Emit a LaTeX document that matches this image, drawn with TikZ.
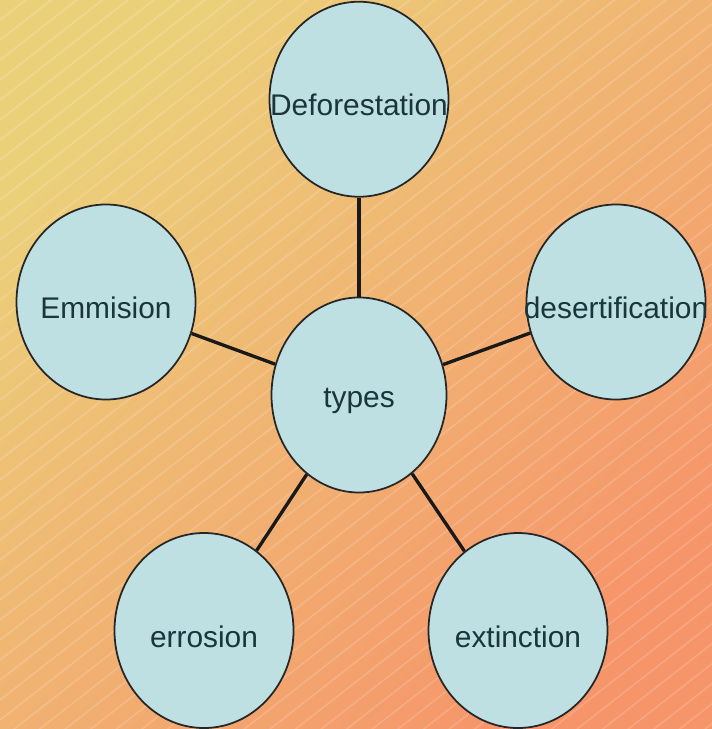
\documentclass[tikz,border=0pt]{standalone}
\usepackage{fontspec}
\setmainfont{Liberation Sans}
\usetikzlibrary{shapes.geometric,positioning}
\definecolor{bgtop}{HTML}{EBD07A}
\definecolor{bgbottom}{HTML}{F6956A}
\definecolor{topicfill}{HTML}{BEE0E3}
\definecolor{topictext}{HTML}{1A353B}
\tikzset{
  mm background/.style={
    shading=axis,
    top color=bgtop,
    bottom color=bgbottom,
    shading angle=45,
  },
  mm hatch/.style={white, line width=0.9pt, draw opacity=0.16},
  mm topic/.style={
    ellipse,
    minimum width=3.58cm,
    minimum height=3.9cm,
    inner sep=0pt,
    line width=1pt,
    draw=black!85,
    fill=topicfill,
  },
  mm text/.style={
    font=\fontsize{17}{20}\selectfont,
    text=topictext,
    yshift=-0.12cm,
  },
  mm link/.style={line width=1.9pt, draw=black!90},
}
\begin{document}
\begin{tikzpicture}
  \useasboundingbox (0,0) rectangle (14.24,-14.58);
  \shade[mm background] (0,0) rectangle (14.24,-14.58);
  \begin{scope}
    \clip (0,0) rectangle (14.24,-14.58);
    \foreach \k in {0,...,80}
      \draw[mm hatch] (0,-0.4*\k) -- ++(38:30);
  \end{scope}

  \node[mm topic,minimum width=3.5cm,label={[mm text]center:types}] (types) at (7.18,-7.9) {};

  \node[mm topic,above=1.98cm of types,label={[mm text]center:Deforestation}] (defo) {};
  \node[mm topic,label={[mm text]center:Emmision}] (emm) at (2.12,-6.04) {};
  \node[mm topic,label={[mm text]center:desertification}] (desert) at (12.32,-6.04) {};
  \node[mm topic,label={[mm text]center:errosion}] (erro) at (4.08,-12.61) {};
  \node[mm topic,label={[mm text]center:extinction}] (ext) at (10.36,-12.61) {};

  \draw[mm link] (types) -- (defo);
  \draw[mm link] (types) -- (emm);
  \draw[mm link] (types) -- (desert);
  \draw[mm link] (types) -- (erro);
  \draw[mm link] (types) -- (ext);
\end{tikzpicture}
\end{document}
